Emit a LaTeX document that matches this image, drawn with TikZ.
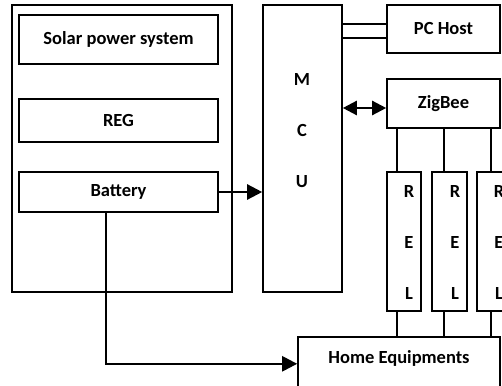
\documentclass[tikz,border=0pt]{standalone}
\usepackage{fontspec}
\setmainfont{Carlito}
\usetikzlibrary{arrows.meta,calc}
\begin{document}
\begin{tikzpicture}[x=1pt,y=-1pt,
  box/.style={draw,line width=1.6pt,inner sep=0pt,font=\fontsize{18.5}{22}\bfseries\selectfont},
  txt/.style={inner sep=0pt,align=center,font=\fontsize{18.5}{51}\bfseries\selectfont},
  wire/.style={line width=1.6pt},
  arr/.style={line width=2.4pt,-{Triangle[length=15pt,width=15pt]}},
  darr/.style={line width=2.4pt,{Triangle[length=14pt,width=14pt]}-{Triangle[length=14pt,width=14pt]}}]
\useasboundingbox (0,0) rectangle (502,385);
\clip (0,0) rectangle (502,385);
\fill[white] (0,0) rectangle (502,385);
% left block
\node[box,minimum width=220pt,minimum height=287pt] (outer) at (122,148.5) {};
\node[box,minimum width=199pt,minimum height=49pt] (solar) at (118.5,39.5) {Solar power system};
\node[box,minimum width=199pt,minimum height=43pt] (reg) at (118.5,120.5) {REG};
\node[box,minimum width=199pt,minimum height=40pt] (battery) at (118.5,192) {Battery};
% MCU
\node[box,minimum width=79pt,minimum height=287pt] (mcu) at (302.5,148.5) {};
\node[txt] (mcutxt) at (302,131) {M\\C\\U};
% right
\node[box,minimum width=113pt,minimum height=48pt] (pc) at (443.5,29) {PC Host};
\node[box,minimum width=113pt,minimum height=49pt] (zig) at (443.5,103.5) {ZigBee};
\node[box,minimum width=34pt,minimum height=139pt] (r1) at (404,241.5) {};
\node[box,minimum width=35pt,minimum height=139pt] (r2) at (449.5,241.5) {};
\node[box,minimum width=35pt,minimum height=139pt] (r3) at (494.5,241.5) {};
\node[txt] (r1t) at (409,242) {R\\E\\L};
\node[txt] (r2t) at (455,242) {R\\E\\L};
\node[txt] (r3t) at (499,242) {R\\E\\L};
\node[box,anchor=north,minimum width=202pt,minimum height=54pt,text depth=14pt] (home) at (399,336) {Home Equipments};
% connectors
\draw[wire] ($(mcu.east)+(0,-124.5)$) -- ($(pc.west)+(0,-5)$);
\draw[wire] ($(mcu.east)+(0,-110.5)$) -- ($(pc.west)+(0,9)$);
\coordinate (zl) at ($(zig.west)+(0,4.5)$);
\draw[darr] (zl -| mcu.east) -- (zl);
\draw[arr] (battery.east) -- (battery.east -| mcu.west);
\coordinate (bs) at ($(battery.south)+(-12.5,0)$);
\draw[arr] (bs) |- (home.west);
\coordinate (c1) at ($(r1.north)+(-7,0)$);
\coordinate (c2) at ($(r2.north)+(-5.5,0)$);
\coordinate (c3) at ($(r3.north)+(-3.5,0)$);
\foreach \c/\r in {c1/r1,c2/r2,c3/r3}{
  \draw[wire] (\c) -- (\c |- zig.south);
  \draw[wire] (\c |- \r.south) -- (\c |- home.north);
}
\end{tikzpicture}
\end{document}
